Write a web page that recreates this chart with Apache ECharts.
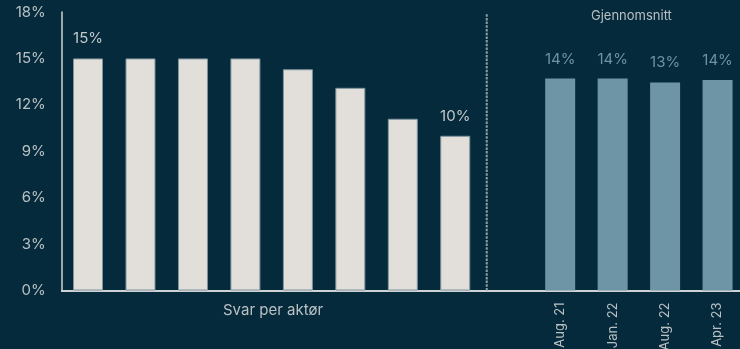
<!DOCTYPE html>
<html><head><meta charset="utf-8">
<script src="https://cdn.jsdelivr.net/npm/echarts@6/dist/echarts.min.js"></script>
<style>html,body{margin:0;padding:0;background:#052a3b}#c{width:740px;height:349px}</style>
</head><body><div id="c"></div>
<script>
const actorCategories = ['Aktør 1','Aktør 2','Aktør 3','Aktør 4','Aktør 5','Aktør 6','Aktør 7','Aktør 8'];
const actorValues = [15, 15, 15, 15, 14.3, 13.1, 11.1, 10];
const gapCategories = [' '];
const periodCategories = ['Aug. 21','Jan. 22','Aug. 22','Apr. 23'];
const periodValues = [13.7, 13.7, 13.45, 13.6];
const yTickMin = 0, yTickMax = 18, yTickStep = 3;
const separatorPosition = 7.6;
const groupTitles = ['Svar per aktør', 'Gjennomsnitt'];

const categories = actorCategories.concat(gapCategories, periodCategories);
const nPad = (n) => new Array(n).fill(null);
const lastActor = actorValues.length - 1;
const actorData = actorValues.map((v, i) => ({
  value: v,
  label: { show: i === 0 || i === lastActor }
})).concat(nPad(gapCategories.length + periodCategories.length));
const periodData = nPad(actorCategories.length + gapCategories.length).concat(periodValues);

const font = 'Inter';
const txt = '#b9c0c4';
const chart = echarts.init(document.getElementById('c'));
chart.setOption({
  backgroundColor: '#052a3b',
  animation: false,
  textStyle: { fontFamily: font },
  grid: { left: 61.8, right: -3.8, top: 12, bottom: 58.5, outerBoundsMode: 'none', containLabel: false },
  xAxis: [{
    type: 'category',
    data: categories,
    axisLine: { show: true, onZero: false, lineStyle: { color: '#d0d3d4', width: 2 } },
    axisTick: { show: false },
    axisLabel: {
      rotate: 90, margin: 12, fontSize: 13, color: txt, fontFamily: font,
      interval: 0,
      formatter: (v) => periodCategories.includes(v) ? v : ''
    }
  }, {
    type: 'value', show: false, min: -0.5, max: categories.length - 0.5
  }],
  yAxis: {
    type: 'value', min: yTickMin, max: yTickMax, interval: yTickStep,
    axisLine: { show: true, onZero: false, lineStyle: { color: '#d0d3d4', width: 1.5 } },
    axisTick: { show: false },
    splitLine: { show: false },
    axisLabel: { formatter: '{value}%', fontSize: 15, color: txt, margin: 16, fontFamily: font }
  },
  graphic: [
    { type: 'text', left: 273 - 50, top: 303, style: { text: groupTitles[0], width: 100, align: 'center', fill: txt, font: '15px ' + font } },
    { type: 'text', left: 641 - 50, top: 10, style: { text: groupTitles[1], width: 100, align: 'center', fill: txt, font: '13px ' + font } }
  ],
  series: [{
    type: 'bar',
    data: actorData,
    barWidth: 30,
    barGap: '-100%',
    itemStyle: { color: '#e2dfdb', borderColor: '#7f939c', borderWidth: 1 },
    label: { show: false, position: 'top', distance: 12, fontSize: 15, color: '#c3c8cb', fontFamily: font,
      formatter: (p) => Math.round(p.value) + '%' }
  }, {
    type: 'bar',
    data: periodData,
    barWidth: 30,
    barGap: '-100%',
    itemStyle: { color: '#6e95a6' },
    label: { show: true, position: 'top', distance: 12, fontSize: 15, color: '#6e93a3', fontFamily: font,
      formatter: (p) => Math.round(p.value) + '%' }
  }, {
    type: 'custom',
    xAxisIndex: 1,
    yAxisIndex: 0,
    clip: false,
    silent: true,
    data: [[separatorPosition, yTickMax]],
    renderItem: (params, api) => {
      const p0 = api.coord([api.value(0), 0]);
      const p1 = api.coord([api.value(0), api.value(1) - 0.1]);
      return { type: 'line', shape: { x1: p0[0], y1: p0[1], x2: p1[0], y2: p1[1] },
        style: { stroke: '#8f9fa7', lineWidth: 2, lineDash: [2.5, 1.2] } };
    }
  }]
});
</script></body></html>
